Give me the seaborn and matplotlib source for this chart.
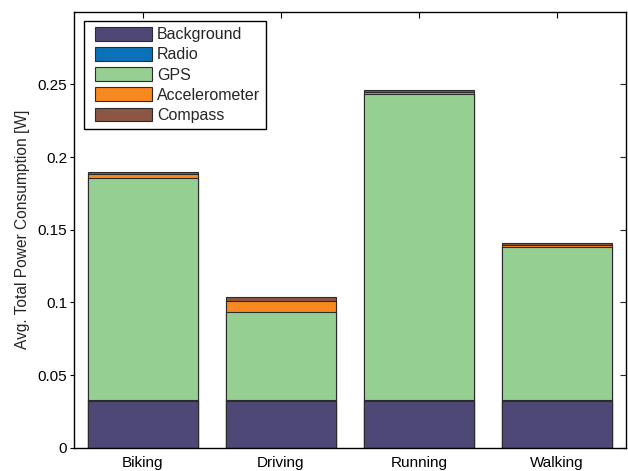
import numpy as np
import pandas as pd
import matplotlib
matplotlib.use("Agg")
import matplotlib.pyplot as plt
from matplotlib.ticker import FuncFormatter
from matplotlib.patches import Patch, Rectangle
from matplotlib.legend_handler import HandlerPatch
import seaborn as sns

# Average power draw per activity, split by component [W]
activities = ["Biking", "Driving", "Running", "Walking"]
components = ["Background", "Radio", "GPS", "Accelerometer", "Compass"]
background = [0.0324, 0.0324, 0.0324, 0.0324]
radio = [0.0002, 0.0002, 0.0002, 0.0002]
gps = [0.1528, 0.0609, 0.2108, 0.1054]
accelerometer = [0.0029, 0.0073, 0.0016, 0.0016]
compass = [0.0014, 0.0030, 0.0013, 0.0012]

colors = ["#4e4876", "#0b72b9", "#96cf92", "#f7891f", "#8c5644"]

df = pd.DataFrame({"Activity": activities,
                   "Background": background,
                   "Radio": radio,
                   "GPS": gps,
                   "Accelerometer": accelerometer,
                   "Compass": compass})
cum = df[components].cumsum(axis=1)

sns.set_style("white")
plt.rcParams["font.family"] = ["Liberation Sans", "DejaVu Sans"]

fig = plt.figure(figsize=(6.28, 4.71), dpi=100)
ax = fig.add_axes([0.1178, 0.0495, 0.879, 0.9257])

# Stacked bars: draw cumulative totals from the top layer down
for comp, col in reversed(list(zip(components, colors))):
    sns.barplot(x=df["Activity"], y=cum[comp], color=col, width=0.8,
                edgecolor="#2b2b2b", linewidth=0.8, saturation=1, ax=ax)

ax.set_xlim(-0.5, 3.5)
ax.set_ylim(0, 0.3)
yt = [0, 0.05, 0.1, 0.15, 0.2, 0.25]
ax.set_yticks(yt)
ax.yaxis.set_major_formatter(FuncFormatter(lambda v, p: "%g" % round(v, 4)))
ax.set_xlabel("")
ax.set_ylabel("Avg. Total Power Consumption [W]", fontsize=11.2, labelpad=5)

for s in ax.spines.values():
    s.set_visible(True)
    s.set_color("black")
    s.set_linewidth(1.0)

ax.tick_params(axis="x", direction="in", length=4, width=0.8, top=True,
               bottom=True, labelsize=11, colors="black", pad=6)
ax.tick_params(axis="y", direction="out", length=3, width=0.8, left=True,
               labelsize=11, colors="black", pad=2)
sec = ax.secondary_yaxis("right")
sec.set_yticks(yt)
sec.tick_params(direction="in", length=4, width=0.8, labelright=False)
sec.spines["right"].set_visible(False)


def inset_patch(legend, orig_handle, xdescent, ydescent, width, height, fontsize):
    inset = 4.0
    return Rectangle((-xdescent + inset, -ydescent), width - inset, height)


handles = [Patch(facecolor=c, edgecolor="#2b2b2b", linewidth=0.8, label=n)
           for n, c in zip(components, colors)]
leg = ax.legend(handles=handles, loc="upper left", fontsize=11.5,
                frameon=True, fancybox=False, edgecolor="black",
                framealpha=1, handlelength=3.95, handleheight=0.95,
                labelspacing=0.3, handletextpad=0.3, borderpad=0.35,
                borderaxespad=0.6,
                handler_map={Patch: HandlerPatch(patch_func=inset_patch)})
leg.get_frame().set_linewidth(1.0)

fig.savefig("out.png", dpi=100)
